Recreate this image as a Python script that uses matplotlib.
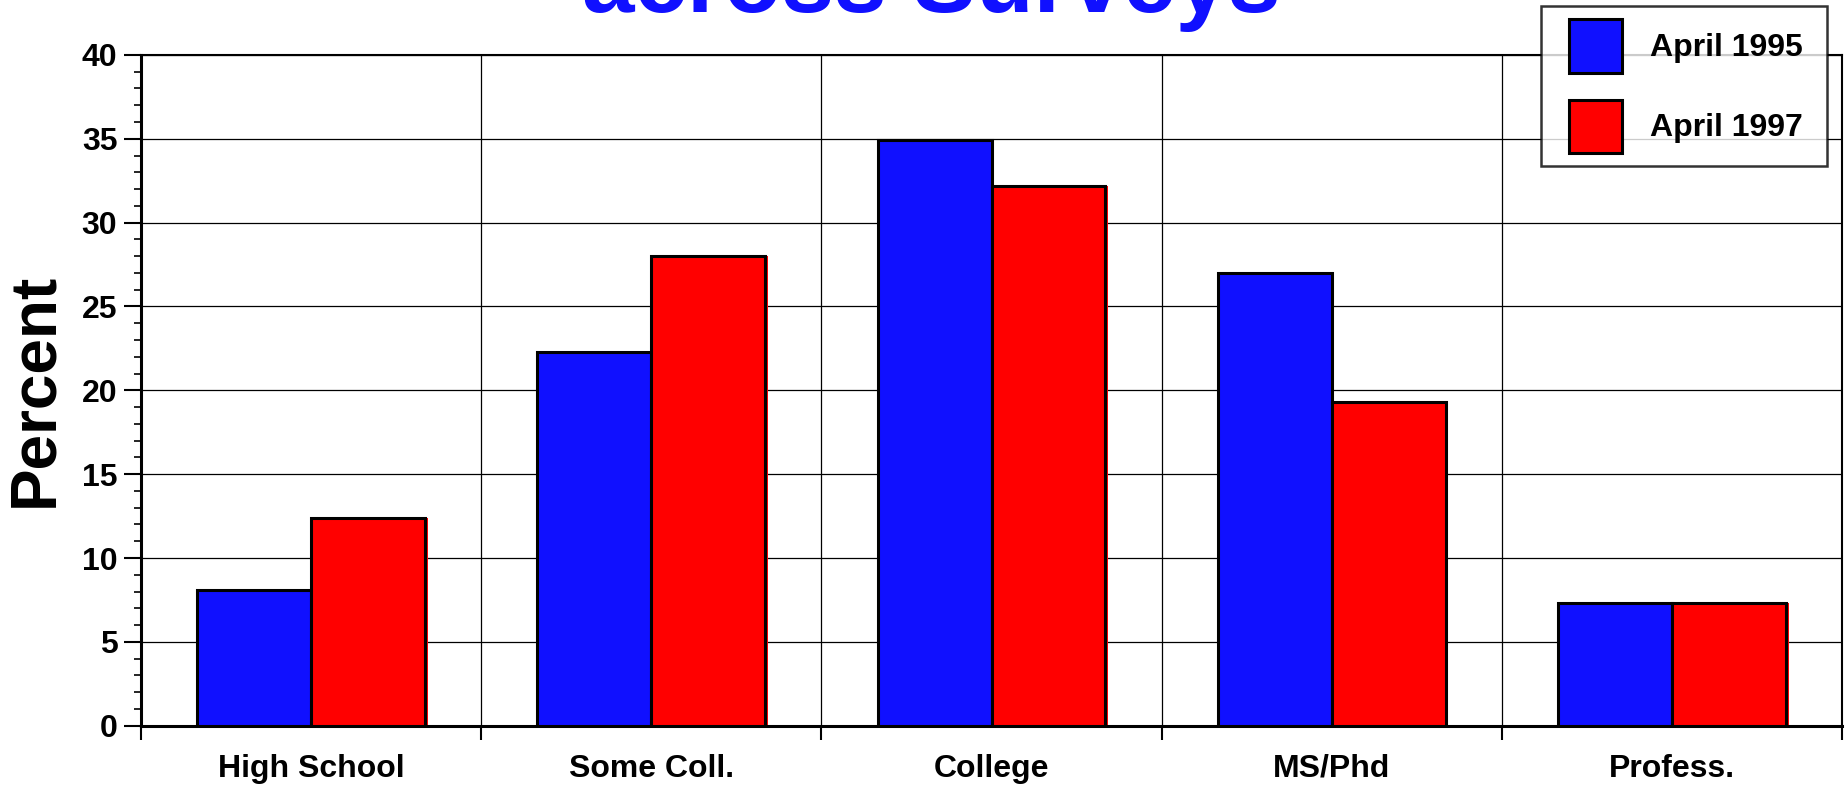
import numpy as np
from matplotlib import pyplot as plt
from matplotlib.patches import Rectangle
from matplotlib.container import BarContainer
from matplotlib.legend_handler import HandlerPatch, update_from_first_child
from matplotlib.ticker import MultipleLocator, FixedLocator

plt.rcParams['font.family'] = ['Liberation Sans', 'DejaVu Sans']
plt.rcParams['font.weight'] = 'bold'

# survey data
categories = ['High School', 'Some Coll.', 'College', 'MS/Phd', 'Profess.']
april_1995 = [8.1, 22.3, 34.9, 27.0, 7.3]
april_1997 = [12.4, 28.0, 32.2, 19.3, 7.3]
series_labels = ['April 1995', 'April 1997']

blue = '#1010FF'
red = '#FF0000'

fig = plt.figure(figsize=(18.45, 7.85), dpi=100)
ax = fig.add_axes([0.0764, 0.0755, 0.922, 0.8545])

x = np.arange(len(categories))
w = 0.335
shift = 0.008  # little drop shadow to the right of each bar

for vals, off, col, lab in [(april_1995, -w / 2, blue, series_labels[0]),
                            (april_1997, w / 2, red, series_labels[1])]:
    ax.bar(x + off + shift, vals, w, color=col, edgecolor='none', zorder=2)
    ax.bar(x + off, vals, w, color=col, edgecolor='black', linewidth=2.2,
           zorder=3, label=lab)

ax.set_xlim(-0.5, len(categories) - 0.5)
ax.set_ylim(0, 40)

# boundaries between groups carry the ticks, labels sit in the middle
ax.xaxis.set_major_locator(FixedLocator(np.arange(-0.5, len(categories), 1.0)))
ax.xaxis.set_minor_locator(FixedLocator(x))
ax.set_xticklabels([''] * (len(categories) + 1))
ax.set_xticklabels(categories, minor=True)
ax.tick_params(axis='x', which='major', direction='out', length=10, width=1.5)
ax.tick_params(axis='x', which='minor', length=0, pad=20, labelsize=23)

ax.yaxis.set_major_locator(MultipleLocator(5))
ax.yaxis.set_minor_locator(MultipleLocator(1))
ax.tick_params(axis='y', which='major', direction='out', length=12, width=1.5,
               pad=5, labelsize=23)
ax.tick_params(axis='y', which='minor', direction='out', length=5, width=1.2)

ax.grid(True, which='major', color='black', linewidth=0.9, zorder=0)
ax.set_axisbelow(True)

for side in ['left', 'bottom']:
    ax.spines[side].set_linewidth(2.2)
for side in ['top', 'right']:
    ax.spines[side].set_linewidth(1.5)

fig.text(35 / 1845, 1 - 390 / 785, 'Percent', rotation=90, fontsize=46,
         fontweight='bold', ha='center', va='center')

fig.text(0.505, 1 - 12 / 785, 'across Surveys', fontsize=68, fontweight='bold',
         color=blue, ha='center', va='baseline')


def square_key(legend, orig_handle, xdescent, ydescent, width, height, fontsize):
    # leave a gap on the left of the handle area so the swatch sits inset
    gap = 0.21 * width
    return Rectangle((-xdescent + gap, -ydescent), width - gap, height)


bar_key = HandlerPatch(patch_func=square_key, update_func=update_from_first_child)

# legend box stretched to a fixed width in the top right corner
leg = fig.legend(loc='upper left',
                 bbox_to_anchor=(1541 / 1845, 1 - 167 / 785, 286 / 1845, 161 / 785),
                 mode='expand', fontsize=23, handlelength=2.1, handleheight=2.18,
                 handletextpad=0.9, labelspacing=0.85, borderpad=0.42,
                 borderaxespad=0, frameon=True, fancybox=False,
                 handler_map={BarContainer: bar_key})
leg.get_frame().set_edgecolor('black')
leg.get_frame().set_linewidth(1.8)
leg.set_zorder(10)

fig.savefig('out.png', dpi=100)
